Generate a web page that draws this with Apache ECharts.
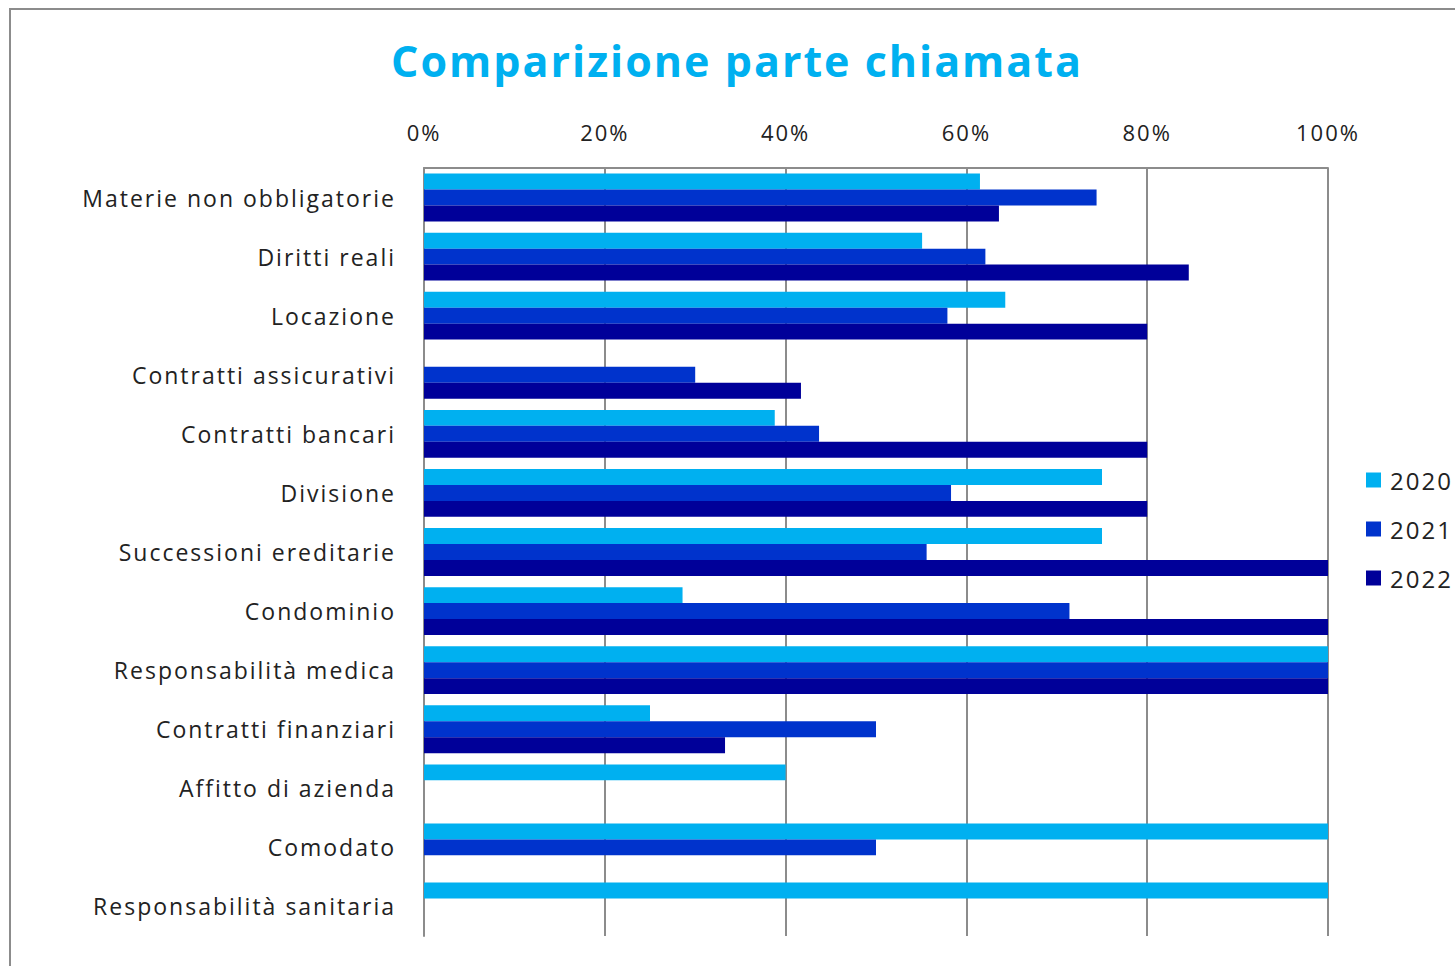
<!DOCTYPE html>
<html>
<head>
<meta charset="utf-8">
<script src="https://cdn.jsdelivr.net/npm/echarts@6/dist/echarts.min.js"></script>
<style>
  html, body { margin: 0; padding: 0; background: #fff; }
  #chart { width: 1455px; height: 966px; }
  /* il grafico originale ha un testo piuttosto spaziato */
  #chart text { letter-spacing: 2px; }
</style>
</head>
<body>
<div id="chart"></div>
<script>
// categorie (dall'alto in basso)
const categorie = [
  'Materie non obbligatorie', 'Diritti reali', 'Locazione', 'Contratti assicurativi',
  'Contratti bancari', 'Divisione', 'Successioni ereditarie', 'Condominio',
  'Responsabilità medica', 'Contratti finanziari', 'Affitto di azienda', 'Comodato',
  'Responsabilità sanitaria'
]
const anni = ['2020', '2021', '2022']
// percentuali
const valori2020 = [61.5, 55.1, 64.3, 0, 38.8, 75, 75, 28.6, 100, 25, 40, 100, 100]
const valori2021 = [74.4, 62.1, 57.9, 30, 43.7, 58.3, 55.6, 71.4, 100, 50, 0, 50, 0]
const valori2022 = [63.6, 84.6, 80, 41.7, 80, 80, 100, 100, 100, 33.3, 0, 0, 0]
const tickValori = [0, 20, 40, 60, 80, 100]
const colori = ['#00B0F0', '#0033CC', '#000099']

const font = '"Open Sans", Lato, sans-serif'
let chart = echarts.init(document.getElementById('chart'), null, { renderer: 'svg' })

function serie(nome, dati, colore) {
  return {
    name: nome,
    type: 'bar',
    data: dati,
    barGap: '0%',
    barCategoryGap: '19%',
    itemStyle: { color: colore },
    emphasis: { disabled: true }
  }
}

chart.setOption({
  animation: false,
  backgroundColor: '#fff',
  title: {
    text: 'Comparizione parte chiamata',
    left: 732,
    top: 34,
    textAlign: 'center',
    textStyle: { color: '#00B0F0', fontSize: 43, fontWeight: 'bold', fontFamily: font }
  },
  graphic: [{
    type: 'rect',
    shape: { x: 10, y: 9, width: 1500, height: 1000 },
    style: { fill: 'none', stroke: '#8c8c8c', lineWidth: 2 },
    silent: true
  }],
  legend: {
    data: anni,
    orient: 'vertical',
    left: 1361,
    top: 463,
    itemWidth: 15,
    itemHeight: 15,
    itemGap: 25,
    icon: 'rect',
    textStyle: { fontSize: 24, color: '#222', fontFamily: font, padding: [0, 0, 0, 4] }
  },
  grid: { left: 424, right: 127, top: 168, bottom: 30 },
  xAxis: {
    type: 'value',
    position: 'top',
    min: 0,
    max: 100,
    interval: 20,
    axisLine: { show: true, lineStyle: { color: '#8c8c8c', width: 2 } },
    axisTick: { show: false },
    axisLabel: {
      formatter: v => tickValori.includes(v) ? v + '%' : '',
      fontSize: 22, color: '#222', margin: 25, fontFamily: font
    },
    splitLine: { show: true, lineStyle: { color: '#8c8c8c', width: 2 } }
  },
  yAxis: {
    type: 'category',
    inverse: true,
    data: categorie,
    axisLine: { show: true, lineStyle: { color: '#8c8c8c', width: 2 } },
    axisTick: { show: false },
    axisLabel: { fontSize: 23, color: '#222', margin: 28, fontFamily: font, padding: [0, 0, 4, 0] }
  },
  series: [
    serie(anni[0], valori2020, colori[0]),
    serie(anni[1], valori2021, colori[1]),
    serie(anni[2], valori2022, colori[2])
  ]
})
</script>
</body>
</html>
